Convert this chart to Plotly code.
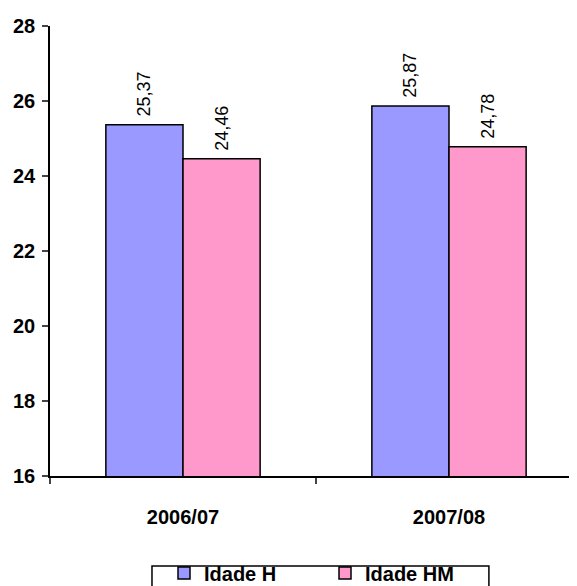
import plotly.graph_objects as go

# data
anos = ["2006/07", "2007/08"]
idade_h = [25.37, 25.87]
idade_hm = [24.46, 24.78]


def rotulo(v):
    # leading non-breaking space gives the gap between bar and label
    return "\u00a0" + f"{v:.2f}".replace(".", ",")


fig = go.Figure()
fig.add_trace(go.Bar(x=anos, y=idade_h, name="Idade H",
                     marker=dict(color="#9999FF", line=dict(color="black", width=1.5)),
                     text=[rotulo(v) for v in idade_h], textposition="outside",
                     textangle=-90, textfont=dict(size=18, color="black"),
                     cliponaxis=False))
fig.add_trace(go.Bar(x=anos, y=idade_hm, name="Idade HM",
                     marker=dict(color="#FF99CC", line=dict(color="black", width=1.5)),
                     text=[rotulo(v) for v in idade_hm], textposition="outside",
                     textangle=-90, textfont=dict(size=18, color="black"),
                     cliponaxis=False))

# the page body has an 8px margin, so the margins are shifted to compensate
fig.update_layout(
    width=577, height=586,
    margin=dict(l=42, r=3, t=18, b=118, autoexpand=False),
    plot_bgcolor="white", paper_bgcolor="white",
    font=dict(family="Arial, Liberation Sans", color="black"),
    barmode="group", bargap=0.42, bargroupgap=0,
    uniformtext=dict(minsize=18, mode="show"),
    legend=dict(orientation="h", xref="container", yref="container",
                x=0.5494, xanchor="center", y=0.036, yanchor="middle",
                borderwidth=0, bgcolor="rgba(0,0,0,0)",
                font=dict(size=20, weight="bold"),
                itemwidth=30, entrywidth=116),
)
# legend frame, running off the bottom edge like in the reference
fig.add_shape(type="rect", xref="paper", yref="paper",
              x0=0.1917, x1=0.825, y0=-0.2, y1=-0.32,
              line=dict(color="black", width=1.5), layer="above")
fig.update_yaxes(range=[16, 28], dtick=2, showgrid=False, zeroline=False,
                 showline=True, linecolor="black", linewidth=1.5,
                 ticks="outside", ticklen=6, tickwidth=1.5, automargin=False,
                 tickfont=dict(size=20, weight="bold"), ticklabelstandoff=3)
fig.update_xaxes(showline=True, linecolor="black", linewidth=1.5,
                 ticks="outside", tickson="boundaries", ticklen=6, tickwidth=1.5,
                 automargin=False,
                 tickfont=dict(size=20, weight="bold"), ticklabelstandoff=22)

fig.write_html("out.html")
